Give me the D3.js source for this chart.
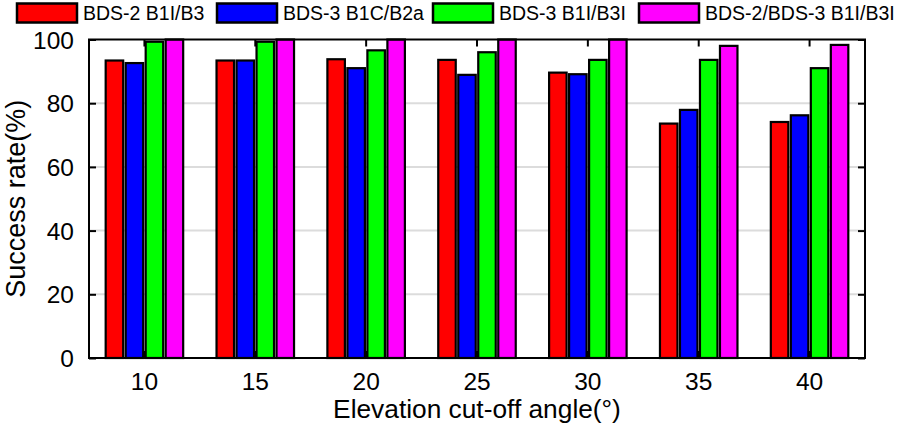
<!DOCTYPE html>
<html><head><meta charset="utf-8">
<script src="https://cdn.jsdelivr.net/npm/d3@7"></script>
<style>body{margin:0;background:#fff}svg{display:block;font-family:Arial,"Liberation Sans",sans-serif}</style>
</head><body><svg id="c" width="898" height="432"></svg>
<script>
const categories = ["10","15","20","25","30","35","40"];
const seriesNames = ["BDS-2 B1I/B3","BDS-3 B1C/B2a","BDS-3 B1I/B3I","BDS-2/BDS-3 B1I/B3I"];
const bds2 = [93.4, 93.4, 93.8, 93.6, 89.6, 73.6, 74.1];
const bds3b1c = [92.6, 93.4, 91.0, 88.9, 89.1, 77.9, 76.2];
const bds3b1i = [99.3, 99.3, 96.6, 96.0, 93.6, 93.6, 91.0];
const combined = [100, 100, 100, 100, 100, 98.0, 98.3];
const colors = ["#ff0000","#0000ff","#00ff00","#ff00ff"];
const yTicks = [0,20,40,60,80,100];

const series = [bds2, bds3b1c, bds3b1i, combined];
const svg = d3.select("#c");
const m = {l:89, r:865, t:39.5, b:358};
const x = d3.scaleBand().domain(categories).range([m.l, m.r]).paddingInner(0).paddingOuter(0);
const y = d3.scaleLinear().domain([0,100]).range([m.b, m.t]);
const barStep = 20, barW = 17.5;
const xs = d3.scaleBand().domain(d3.range(4)).range([-2*barStep, 2*barStep]);

// grid
svg.append("g").selectAll("line").data(yTicks.filter(d=>d>0&&d<100)).join("line")
  .attr("x1", m.l).attr("x2", m.r).attr("y1", d=>y(d)).attr("y2", d=>y(d))
  .attr("stroke", "#dcdcdc").attr("stroke-width", 2);

// bars
const g = svg.append("g");
categories.forEach((c,i)=>{
  series.forEach((s,j)=>{
    const cx = x(c) + x.bandwidth()/2 + xs(j) + xs.bandwidth()/2;
    g.append("rect").attr("x", cx - barW/2).attr("width", barW)
      .attr("y", y(s[i])).attr("height", y(0)-y(s[i]))
      .attr("fill", colors[j]).attr("stroke", "#000").attr("stroke-width", 2.2);
  });
});

// axes
const tickLen = 7;
const yL = svg.append("g").attr("transform", `translate(${m.l},0)`)
  .call(d3.axisLeft(y).tickValues(yTicks).tickSize(-tickLen).tickPadding(15).tickFormat(d3.format("d")));
const yR = svg.append("g").attr("transform", `translate(${m.r},0)`)
  .call(d3.axisRight(y).tickValues(yTicks).tickSize(-tickLen).tickFormat(""));
const xB = svg.append("g").attr("transform", `translate(0,${m.b})`)
  .call(d3.axisBottom(x).tickSize(-tickLen).tickPadding(15));
const xT = svg.append("g").attr("transform", `translate(0,${m.t})`)
  .call(d3.axisTop(x).tickSize(-tickLen).tickFormat(""));
[yL,yR,xB,xT].forEach(a=>{
  a.select(".domain").remove();
  a.selectAll(".tick line").attr("stroke","#000").attr("stroke-width",2);
  a.selectAll("text").attr("font-size",24.5).attr("fill","#000").attr("font-family","Arial, 'Liberation Sans', sans-serif");
});
yL.selectAll("text").attr("dy","0.35em");
svg.append("rect").attr("x", m.l).attr("y", m.t).attr("width", m.r-m.l).attr("height", m.b-m.t)
  .attr("fill","none").attr("stroke","#000").attr("stroke-width",2);

// axis titles
svg.append("text").attr("x", (m.l+m.r)/2).attr("y", 418).attr("text-anchor","middle")
  .attr("font-size",26.3).text("Elevation cut-off angle(°)");
svg.append("text").attr("transform", `translate(25,${(m.t+m.b)/2}) rotate(-90)`).attr("text-anchor","middle")
  .attr("font-size",27).text("Success rate(%)");

// legend
const legX = [17, 217, 433, 639];
const lg = svg.append("g");
seriesNames.forEach((n,j)=>{
  lg.append("rect").attr("x", legX[j]).attr("y", 3.5).attr("width", 60).attr("height", 19)
    .attr("fill", colors[j]).attr("stroke","#000").attr("stroke-width",2.5);
  lg.append("text").attr("x", legX[j]+66).attr("y", 20).attr("font-size",19.5).text(n);
});
</script></body></html>
